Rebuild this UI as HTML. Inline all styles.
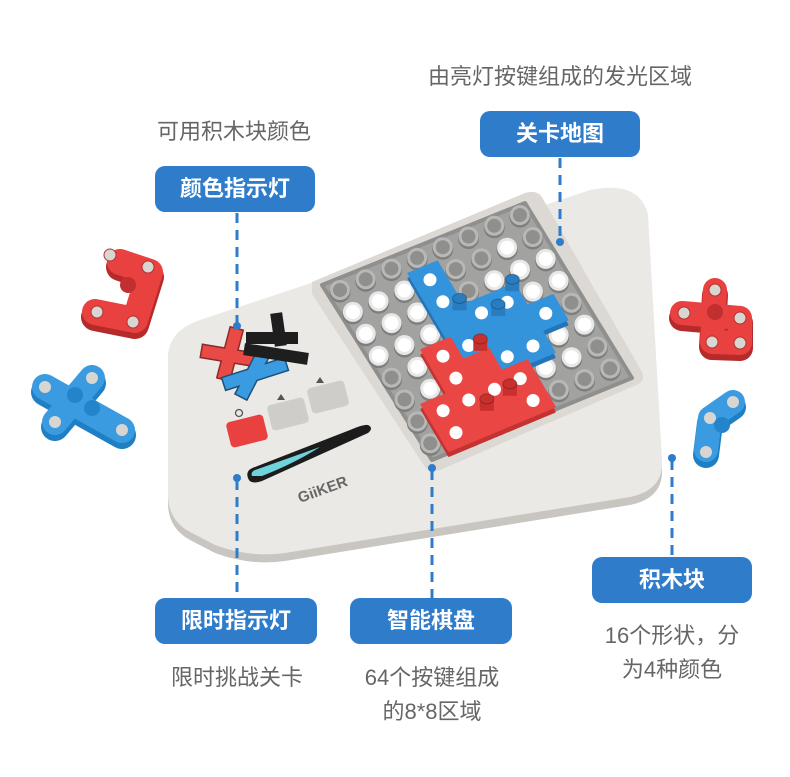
<!DOCTYPE html>
<html><head><meta charset="utf-8"><style>
body{margin:0;width:790px;height:777px;background:#fff;position:relative;overflow:hidden;font-family:"Liberation Sans","Noto Sans CJK SC",sans-serif}
.b{position:absolute;background:#2f7ccb;color:#fff;font-weight:bold;font-size:22px;border-radius:10px;text-align:center;line-height:46px;height:46px;width:162px}
.c{position:absolute;color:#666;font-size:22px;text-align:center;line-height:34px}
svg{position:absolute;left:0;top:0}
</style></head><body>
<svg width="790" height="777">
<g stroke-linecap="round" stroke-linejoin="round" fill="none">
 <path d="M120 262 L150 272 L135 320 L95 312" stroke="#b52a2a" stroke-width="28" transform="translate(0,5)"/>
 <path d="M120 262 L150 272 L135 320 L95 312" stroke="#e8413f" stroke-width="26"/>
 <path d="M45 387 L122 430 M92 378 L55 422" stroke="#1f7fc4" stroke-width="28" transform="translate(0,5)"/>
 <path d="M45 387 L122 430 M92 378 L55 422" stroke="#3a9be0" stroke-width="26"/>
 <path d="M682 313 L740 318 L740 343 L712 342 L715 290" stroke="#b52a2a" stroke-width="26" transform="translate(0,5)"/>
 <path d="M682 313 L740 318 L740 343 L712 342 L715 290" stroke="#e8413f" stroke-width="24"/>
 <path d="M733 402 L710 418 L706 450" stroke="#1f7fc4" stroke-width="26" transform="translate(0,5)"/>
 <path d="M733 402 L710 418 L706 450" stroke="#3a9be0" stroke-width="24"/>
</g>
<g fill="#d9d6d2" stroke="#b03333" stroke-width="1">
<circle cx="110" cy="255" r="6"/><circle cx="148" cy="267" r="6"/><circle cx="133" cy="322" r="6"/><circle cx="97" cy="312" r="6"/>
<circle cx="715" cy="290" r="6"/><circle cx="684" cy="313" r="6"/><circle cx="740" cy="318" r="6"/><circle cx="740" cy="343" r="6"/><circle cx="712" cy="342" r="6"/>
</g>
<g fill="#d9d6d2"><circle cx="45" cy="387" r="6"/><circle cx="92" cy="378" r="6"/><circle cx="55" cy="422" r="6"/><circle cx="122" cy="430" r="6"/><circle cx="733" cy="402" r="6"/><circle cx="710" cy="418" r="6"/><circle cx="706" cy="452" r="6"/></g>
<g fill="#c22f2f"><circle cx="128" cy="285" r="8"/><circle cx="715" cy="312" r="8"/></g>
<g fill="#2384cc"><circle cx="75" cy="395" r="8"/><circle cx="92" cy="408" r="8"/><circle cx="722" cy="425" r="8"/></g>
<path d="M200 330 L590 198 Q640 188 648 223 L662 468 Q664 498 630 505 L285 561 Q250 566 215 553 L190 540 Q168 528 168 503 L168 363 Q170 338 200 330 Z" fill="#c9c6c1"/>
<path d="M200 320 L590 190 Q640 180 648 215 L662 460 Q664 490 630 497 L285 553 Q250 558 215 545 L190 532 Q168 520 168 495 L168 355 Q170 330 200 320 Z" fill="#ebe9e5"/>
<path d="M312 282 L525 193 Q538 189 543 199 L642 372 Q646 382 634 386 L440 470 Q428 474 423 464 L312 294 Z" fill="#dcd9d4"/>
<path d="M322 285 L525 203 L632 378 L432 460 Z" fill="#a2a2a0" stroke="#8f8f8d" stroke-width="4" stroke-linejoin="round"/>
<g id="dots"></g>
<g id="pcs"></g>
<path d="M208 352 L250 359 M235 335 L225 373" stroke="#8a2a2a" stroke-width="15" stroke-linecap="square"/>
<path d="M208 352 L250 359 M235 335 L225 373" stroke="#ea4a45" stroke-width="12" stroke-linecap="square"/>
<path d="M230 382 L280 366 M260 360 L244 391" stroke="#1d4f7a" stroke-width="15" stroke-linecap="square"/>
<path d="M230 382 L280 366 M260 360 L244 391" stroke="#3a9be0" stroke-width="12" stroke-linecap="square"/>
<path d="M277 319 L280 340 M252 338 L292 338 M250 350 L302 358" stroke="#1e1e1e" stroke-width="12" stroke-linecap="square"/>
<rect x="228" y="418" width="38" height="26" rx="4" fill="#e8413f" transform="rotate(-14 247 431)"/>
<rect x="269" y="401" width="38" height="26" rx="4" fill="#cfcdca" transform="rotate(-14 288 414)"/>
<rect x="309" y="384" width="38" height="26" rx="4" fill="#cfcdca" transform="rotate(-14 328 397)"/>
<circle cx="239" cy="413" r="3.5" fill="none" stroke="#555" stroke-width="1.3"/>
<path d="M277 400 l4 -6 l4 6 z M316 383 l4 -6 l4 6 z" fill="#555"/>
<path d="M248 478 Q245 470 255 467 L350 430 Q364 424 368 425 Q374 428 368 433 L262 481 Q250 485 248 478 Z" fill="#1c1c1c"/>
<path d="M252 476 Q250 471 258 469 L320 447 Q295 463 262 476 Z" fill="#6fd3dc"/>
<text x="300" y="503" font-family="Liberation Sans" font-weight="bold" font-size="15" fill="#666" transform="rotate(-20 300 503)">GiiKER</text>
<g stroke="#2f7ccb" stroke-width="3" stroke-dasharray="10 7" fill="none">
<path d="M237 213 V325 M560 158 V242 M237 480 V598 M432 470 V598 M672 460 V557"/></g>
<g fill="#2f7ccb"><circle cx="237" cy="326" r="4"/><circle cx="560" cy="242" r="4"/><circle cx="237" cy="478" r="4"/><circle cx="432" cy="468" r="4"/><circle cx="672" cy="458" r="4"/></g>
</svg>
<div class="c" style="left:400px;top:60px;width:320px">由亮灯按键组成的发光区域</div>
<div class="b" style="left:480px;top:111px;width:160px">关卡地图</div>
<div class="c" style="left:134px;top:115px;width:200px">可用积木块颜色</div>
<div class="b" style="left:155px;top:166px;width:160px">颜色指示灯</div>
<div class="b" style="left:155px;top:598px">限时指示灯</div>
<div class="b" style="left:350px;top:598px">智能棋盘</div>
<div class="b" style="left:592px;top:557px;width:160px">积木块</div>
<div class="c" style="left:137px;top:661px;width:200px">限时挑战关卡</div>
<div class="c" style="left:332px;top:661px;width:200px">64个按键组成<br>的8*8区域</div>
<div class="c" style="left:572px;top:619px;width:200px">16个形状，分<br>为4种颜色</div>
<script>
function c(i,j){return [340+i*25.7+j*12.9, 290-i*10.7+j*21.9];}
var rows=["00000000","111x0010","111x0111","111xxx11","01rxxxx0","01rrxx11","0rrrrr10","0rrrr000"];
var blue=[[3,1],[3,2],[3,3],[4,3],[5,3],[3,4],[4,4],[5,4],[6,4],[4,5],[5,5]];
var red=[[2,4],[2,5],[3,5],[1,6],[2,6],[3,6],[4,6],[1,7],[2,7],[3,7],[4,7]];
var h='';
for(var j=0;j<8;j++)for(var i=0;i<8;i++){
var p=c(i,j),x=p[0].toFixed(1),y=p[1].toFixed(1);var w=rows[j][i]!='0';
h+='<circle cx="'+x+'" cy="'+(p[1]+2).toFixed(1)+'" r="10.5" fill="#7e7e7c"/>';
h+='<circle cx="'+x+'" cy="'+y+'" r="10" fill="'+(w?'#e8e8e8':'#b8b8b6')+'"/>';
h+='<circle cx="'+x+'" cy="'+y+'" r="7" fill="'+(w?'#ffffff':'#8f8f8d')+'"/>';}
document.getElementById('dots').innerHTML=h;
function poly(i,j,col,dy){var a=[c(i-.56,j-.56),c(i+.56,j-.56),c(i+.56,j+.56),c(i-.56,j+.56)];
return '<polygon points="'+a.map(function(q){return q[0].toFixed(1)+','+(q[1]+dy).toFixed(1)}).join(' ')+'" fill="'+col+'" stroke="'+col+'" stroke-width="2" stroke-linejoin="round"/>';}
var g='';
blue.forEach(function(q){g+=poly(q[0],q[1],'#2374b8',5);});
red.forEach(function(q){g+=poly(q[0],q[1],'#c33332',5);});
blue.forEach(function(q){g+=poly(q[0],q[1],'#3394dc',0);});
red.forEach(function(q){g+=poly(q[0],q[1],'#ea4744',0);});
var dotsW=[[3,1],[3,2],[4,3],[5,3],[6,4],[4,5],[5,5],[3,4],[2,4],[2,5],[3,6],[1,6],[1,7],[4,6],[4,7],[2,6]];
dotsW.forEach(function(q){var p=c(q[0],q[1]);g+='<circle cx="'+p[0].toFixed(1)+'" cy="'+p[1].toFixed(1)+'" r="6.5" fill="#fff"/>';});
var pegs=[[3.4,2.5,'#2a7cc0'],[4.5,3.3,'#2a7cc0'],[5.4,2.6,'#2a7cc0'],[3.3,4.3,'#c8302e'],[2.4,6.6,'#c8302e'],[3.4,6.4,'#c8302e']];
pegs.forEach(function(q){var p=c(q[0],q[1]);g+='<rect x="'+(p[0]-7).toFixed(1)+'" y="'+(p[1]-10).toFixed(1)+'" width="14" height="12" fill="'+q[2]+'"/><ellipse cx="'+p[0].toFixed(1)+'" cy="'+(p[1]-10).toFixed(1)+'" rx="7" ry="5" fill="'+q[2]+'" stroke="#000" stroke-opacity=".25"/>';});
document.getElementById('pcs').innerHTML=g;
</script>
</body></html>
